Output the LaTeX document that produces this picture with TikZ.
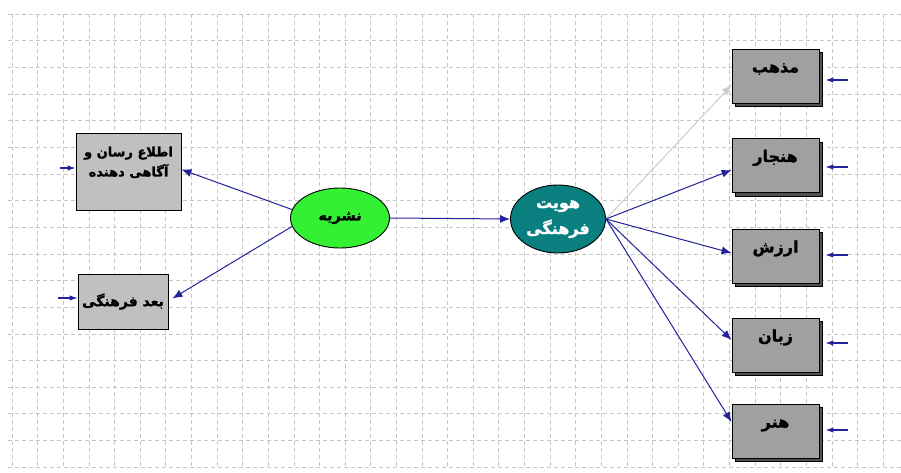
\documentclass[tikz,border=0pt]{standalone}
\usepackage{fontspec}
\TeXXeTstate=1
\newfontfamily\arabicfont[Script=Arabic, BoldFeatures={FakeBold=1.3}]{DejaVu Sans}
\usetikzlibrary{arrows.meta,shapes.geometric,shadows}
\definecolor{lgray}{HTML}{C0C0C0}
\definecolor{dgray}{HTML}{A0A0A0}
\definecolor{sgray}{HTML}{505050}
\definecolor{navy}{HTML}{22229A}
\definecolor{lgreen}{HTML}{33F033}
\definecolor{teal2}{HTML}{0A7F7F}
\begin{document}
\begin{tikzpicture}[x=1pt,y=-1pt,
  gridln/.style={draw=gray!45, dash pattern=on 4pt off 3pt, line width=0.6pt},
  lbox/.style={rectangle, draw=black, line width=0.8pt, fill=lgray, inner sep=0pt,
    align=center, font=\arabicfont\bfseries\fontsize{13}{20}\selectfont},
  rbox/.style={rectangle, draw=black, line width=0.8pt, fill=dgray, inner sep=0pt,
    minimum width=87pt, minimum height=54pt, text height=12pt, text depth=19pt,
    font=\arabicfont\bfseries\fontsize{16}{18}\selectfont,
    copy shadow={shadow xshift=3.5pt, shadow yshift=-3.5pt, fill=sgray, draw=black, line width=0.6pt}},
  latent/.style={ellipse, draw=black, line width=0.9pt, inner sep=0pt, align=center},
  conn/.style={draw=navy, line width=1pt, -{Latex[length=10pt,width=8pt]}},
  errarr/.style={draw=navy, line width=1.2pt, -{Latex[length=8pt,width=5.5pt]}}
]
\useasboundingbox (0,0) rectangle (901,473);
\fill[white] (0,0) rectangle (901,473);
% grid
\foreach \i in {0,...,34} \draw[gridln] ({12+25.62*\i},14) -- ({12+25.62*\i},467);
\foreach \j in {0,...,17} \draw[gridln] (8,{14+26.65*\j}) -- (901,{14+26.65*\j});

% left boxes
\node[lbox, minimum width=105pt, minimum height=77pt, text depth=20pt] (b1) at (128.5,171.5)
  {\beginR اطلاع رسان و\endR\\ \beginR آگاهی دهنده\endR};
\node[lbox, minimum width=90pt, minimum height=55pt, font=\arabicfont\bfseries\fontsize{14}{16}\selectfont] (b2) at (123,301.5)
  {\beginR بعد فرهنگی\endR};

% latent variables
\node[latent, fill=lgreen, minimum width=99pt, minimum height=60pt,
  font=\arabicfont\bfseries\fontsize{14.5}{16}\selectfont] (ns) at (340,218) {\beginR نشریه\endR};
\node[latent, fill=teal2, text=white, minimum width=95pt, minimum height=68pt,
  font=\arabicfont\bfseries\fontsize{16}{26}\selectfont] (hv) at (558,219)
  {\beginR هویت\endR\\ \beginR فرهنگی\endR};

% right boxes
\node[rbox] (r1) at (775.5,76) {\beginR مذهب\endR};
\node[rbox] (r2) at (775.5,165.5) {\beginR هنجار\endR};
\node[rbox] (r3) at (775.5,256) {\beginR ارزش\endR};
\node[rbox] (r4) at (775.5,345) {\beginR زبان\endR};
\node[rbox] (r5) at (775.5,431) {\beginR هنر\endR};

% structural arrows
\draw[conn] (ns.170) -- ([yshift=2pt]b1.east);
\draw[conn] (ns.190) -- ([xshift=4pt,yshift=3pt]b2.east);
\draw[conn] (ns.east) -- (hv.west);
\draw[conn, draw=gray!40] (hv.east) -- ([yshift=-9pt]r1.west);
\draw[conn] (hv.east) -- ([yshift=-4.5pt]r2.west);
\draw[conn] (hv.east) -- ([yshift=3pt]r3.west);
\draw[conn] (hv.east) -- ([yshift=5pt]r4.west);
\draw[conn] (hv.east) -- ([yshift=9pt]r5.west);

% error arrows
\coordinate (e1) at (60,168);
\coordinate (e2) at (58,298);
\draw[errarr] (e1) -- (e1 -| b1.west);
\draw[errarr] (e2) -- (e2 -| b2.west);
\foreach \r/\yy in {r1/80,r2/167,r3/255,r4/343,r5/430}{
  \coordinate (c\r) at (848,\yy);
  \draw[errarr] (c\r) -- ([xshift=6pt]\r.east |- c\r);
}
\end{tikzpicture}
\end{document}
